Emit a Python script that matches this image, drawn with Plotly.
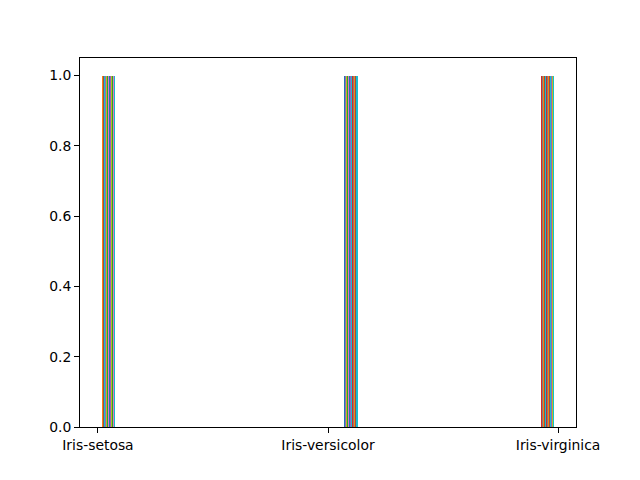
import plotly.graph_objects as go

# Data: one histogram dataset per iris row (each holding one species code)
species_names = ["Iris-setosa", "Iris-versicolor", "Iris-virginica"]
species_counts = [50, 50, 50]
row_values = []  # encoded species value of each row (0, 1, 2)
for code, n in enumerate(species_counts):
    row_values += [code] * n
row_heights = [1] * len(row_values)  # each single-row dataset counts 1 in its bin

tab10 = ["#1f77b4", "#ff7f0e", "#2ca02c", "#d62728", "#9467bd",
         "#8c564b", "#e377c2", "#7f7f7f", "#bcbd22", "#17becf"]

# matplotlib-style multi-dataset histogram layout: 10 bins over [0, 2]
nbins = 10
lo, hi = min(row_values), max(row_values)
binw = (hi - lo) / nbins
ndata = len(row_values)
dw = 0.8 * binw / ndata

xs, ws, cols = [], [], []
for i, v in enumerate(row_values):
    b = min(int((v - lo) / binw), nbins - 1)
    left = lo + b * binw + 0.1 * binw + i * dw
    xs.append(left + dw / 2)
    ws.append(dw)
    cols.append(tab10[i % 10])

fig = go.Figure(go.Bar(x=xs, y=row_heights, width=ws,
                       marker=dict(color=cols, line=dict(width=0))))

axis_common = dict(showline=True, linecolor="black", linewidth=1, mirror=True,
                   ticks="outside", ticklen=5, tickcolor="black", showgrid=False,
                   zeroline=False, tickfont=dict(family="DejaVu Sans", size=13.9, color="black"))

fig.update_layout(
    width=640, height=480,
    margin=dict(l=80, r=64, t=58, b=53),
    paper_bgcolor="white", plot_bgcolor="white",
    showlegend=False, bargap=0,
    xaxis=dict(range=[-0.078, 2.078], tickvals=[0, 1, 2], ticktext=species_names, **axis_common),
    yaxis=dict(range=[0, 1.05], tickvals=[0, 0.2, 0.4, 0.6, 0.8, 1.0],
               ticktext=["0.0", "0.2", "0.4", "0.6", "0.8", "1.0"], **axis_common),
)

fig.write_html("out.html")
